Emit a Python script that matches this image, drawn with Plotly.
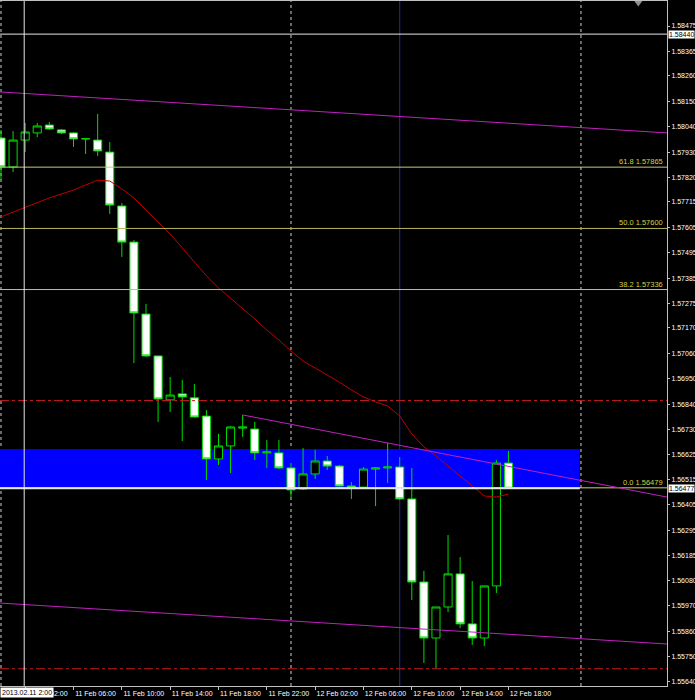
import plotly.graph_objects as go

# ---------------- data ----------------
bar_labels = [f"11 Feb {h:02d}:00" for h in range(24)] + [f"12 Feb {h:02d}:00" for h in range(19)]

open_ = [1.57991, 1.57866, 1.57982, 1.58013, 1.58047, 1.58026, 1.58013, 1.57987, 1.57982, 1.57930,
         1.57697, 1.57541, 1.57230, 1.57049, 1.56859, 1.56885, 1.56868, 1.56789, 1.56604, 1.56660,
         1.56737, 1.56733, 1.56630, 1.56630, 1.56565, 1.56474, 1.56539, 1.56595, 1.56573, 1.56487,
         1.56482, 1.56560, 1.56565, 1.56569, 1.56431, 1.56072, 1.55830, 1.55964, 1.56107, 1.55891,
         1.55830, 1.56055, 1.56586]
high = [1.58026, 1.58021, 1.58056, 1.58056, 1.58060, 1.58030, 1.58017, 1.57991, 1.58095, 1.57974,
        1.57710, 1.57550, 1.57274, 1.57050, 1.56958, 1.56945, 1.56928, 1.56815, 1.56712, 1.56745,
        1.56794, 1.56764, 1.56686, 1.56686, 1.56586, 1.56651, 1.56643, 1.56617, 1.56578, 1.56504,
        1.56569, 1.56569, 1.56673, 1.56612, 1.56565, 1.56120, 1.55964, 1.56275, 1.56180, 1.56076,
        1.56055, 1.56599, 1.56638]
low = [1.57809, 1.57844, 1.57930, 1.57995, 1.58026, 1.58008, 1.57952, 1.57922, 1.57913, 1.57663,
       1.57477, 1.57018, 1.57045, 1.56764, 1.56807, 1.56681, 1.56783, 1.56513, 1.56578, 1.56543,
       1.56699, 1.56599, 1.56565, 1.56560, 1.56439, 1.56470, 1.56517, 1.56556, 1.56485, 1.56431,
       1.56482, 1.56400, 1.56500, 1.56426, 1.55994, 1.55722, 1.55700, 1.55942, 1.55873, 1.55800,
       1.55795, 1.56024, 1.56477]
close = [1.57866, 1.57982, 1.58017, 1.58043, 1.58030, 1.58013, 1.57987, 1.57988, 1.57935, 1.57701,
         1.57541, 1.57235, 1.57049, 1.56863, 1.56880, 1.56872, 1.56785, 1.56604, 1.56660, 1.56742,
         1.56742, 1.56630, 1.56634, 1.56565, 1.56470, 1.56539, 1.56595, 1.56573, 1.56487, 1.56482,
         1.56560, 1.56565, 1.56569, 1.56431, 1.56072, 1.55830, 1.55964, 1.56107, 1.55891, 1.55830,
         1.56055, 1.56586, 1.56477]
ma = [1.57650, 1.57671, 1.57693, 1.57714, 1.57732, 1.57749, 1.57766, 1.57788, 1.57809, 1.57805,
      1.57771, 1.57732, 1.57680, 1.57632, 1.57576, 1.57516, 1.57455, 1.57395, 1.57343, 1.57299,
      1.57252, 1.57209, 1.57161, 1.57118, 1.57070, 1.57027, 1.56997, 1.56967, 1.56936, 1.56902,
      1.56872, 1.56850, 1.56833, 1.56789, 1.56712, 1.56656, 1.56617, 1.56573, 1.56530, 1.56483,
      1.56444, 1.56439, 1.56452]

x_tick_pos = [2, 6, 10, 14, 18, 22, 26, 30, 34, 38, 42]
x_tick_text = ["11 Feb 02:00", "11 Feb 06:00", "11 Feb 10:00", "11 Feb 14:00", "11 Feb 18:00",
               "11 Feb 22:00", "12 Feb 02:00", "12 Feb 06:00", "12 Feb 10:00", "12 Feb 14:00",
               "12 Feb 18:00"]
y_tick_text = ["1.58475", "1.58365", "1.58260", "1.58150", "1.58040", "1.57930", "1.57820",
               "1.57715", "1.57605", "1.57495", "1.57385", "1.57275", "1.57170", "1.57060",
               "1.56950", "1.56840", "1.56730", "1.56625", "1.56515", "1.56405", "1.56295",
               "1.56185", "1.56080", "1.55970", "1.55860", "1.55750", "1.55640"]

fib_levels = ["61.8", "50.0", "38.2", "0.0"]
fib_prices = [1.57865, 1.57600, 1.57336, 1.56479]
fib_colors = ["#C8C87A", "#B4B45A", "#C8BC8C", "#D2D264"]

red_levels = [1.56856, 1.55697]
zone_low, zone_high = 1.56479, 1.56647
zone_end = 47.9
day_separators = [0, 24, 48]
blue_vline = 33
cross_x, cross_price = 1.92, 1.58440
bid_price = 1.56477

# trendlines: (x0, y0, x1, y1)
trendlines = [(-0.083, 1.58190, 55.12, 1.58013),
              (-0.083, 1.55981, 55.12, 1.55804),
              (20, 1.56794, 55.12, 1.56439)]

x_range = [-0.083, 55.12]
y_range = [1.556225, 1.585831]

# ---------------- figure ----------------
idx = list(range(len(open_)))
fig = go.Figure()

fig.add_trace(go.Scatter(x=idx, y=ma, mode="lines",
                         line=dict(color="#C00000", width=1), hoverinfo="skip"))

fig.add_trace(go.Candlestick(
    x=idx, open=open_, high=high, low=low, close=close, text=bar_labels,
    increasing=dict(line=dict(color="#00DD00", width=1), fillcolor="#000000"),
    decreasing=dict(line=dict(color="#00DD00", width=1), fillcolor="#FFFFFF"),
    whiskerwidth=0))

shapes = []
shapes.append(dict(type="rect", xref="x", yref="y", x0=-1, x1=zone_end, y0=zone_low, y1=zone_high,
                   fillcolor="#0000FF", line=dict(width=0), layer="below"))
for d in day_separators:
    shapes.append(dict(type="line", xref="x", yref="paper", x0=d, x1=d, y0=0, y1=1,
                       line=dict(color="#D0D0D0", width=1, dash="dot"), layer="below"))
shapes.append(dict(type="line", xref="x", yref="paper", x0=blue_vline, x1=blue_vline, y0=0, y1=1,
                   line=dict(color="#2828B4", width=1), layer="below"))
for p in red_levels:
    shapes.append(dict(type="line", xref="paper", yref="y", x0=0, x1=1, y0=p, y1=p,
                       line=dict(color="#C81E1E", width=1, dash="dashdot")))
for p, c in zip(fib_prices, fib_colors):
    shapes.append(dict(type="line", xref="paper", yref="y", x0=0, x1=1, y0=p, y1=p,
                       line=dict(color=c, width=1)))
shapes.append(dict(type="line", xref="x", yref="y", x0=-1, x1=zone_end, y0=bid_price, y1=bid_price,
                   line=dict(color="#E6E6E6", width=2)))
for (x0, y0, x1, y1) in trendlines:
    shapes.append(dict(type="line", xref="x", yref="y", x0=x0, y0=y0, x1=x1, y1=y1,
                       line=dict(color="#C020C0", width=1)))
shapes.append(dict(type="line", xref="x", yref="paper", x0=cross_x, x1=cross_x, y0=0, y1=1,
                   line=dict(color="#E6E6E6", width=1)))
shapes.append(dict(type="line", xref="paper", yref="y", x0=0, x1=1, y0=cross_price, y1=cross_price,
                   line=dict(color="#E6E6E6", width=1)))
shapes.append(dict(type="path", xref="paper", yref="paper",
                   path="M 0.951,1 L 0.963,1 L 0.957,0.992 Z",
                   fillcolor="#909090", line=dict(width=0)))

annotations = []
for lvl, p in zip(fib_levels, fib_prices):
    annotations.append(dict(xref="paper", yref="y", x=1, y=p, text=f"{lvl} {p:.5f}",
                            xanchor="right", yanchor="bottom", showarrow=False, xshift=-2, yshift=-1,
                            font=dict(family="Liberation Sans", size=7.5, color="#D2D246")))
for p in [cross_price, bid_price]:
    annotations.append(dict(xref="paper", yref="y", x=1, y=p, text=f"{p:.5f}",
                            xanchor="left", yanchor="middle", showarrow=False, xshift=1,
                            bgcolor="#FFFFFF", borderpad=0,
                            font=dict(family="Liberation Sans", size=7, color="#000000")))
annotations.append(dict(xref="paper", yref="paper", x=0, y=0, text="2013.02.11 2:00",
                        xanchor="left", yanchor="top", showarrow=False, yshift=-1, xshift=0,
                        bgcolor="#FFFFFF", borderpad=1,
                        font=dict(family="Liberation Sans", size=7, color="#000000")))

fig.update_layout(
    width=695, height=700,
    margin=dict(l=0, r=28, t=1, b=14, autoexpand=False),
    paper_bgcolor="#000000", plot_bgcolor="#000000",
    showlegend=False, boxgap=0.33, boxgroupgap=0,
    shapes=shapes, annotations=annotations,
    font=dict(family="Liberation Sans", size=7, color="#FFFFFF"),
    xaxis=dict(range=x_range, showgrid=False, zeroline=False, rangeslider=dict(visible=False),
               tickvals=x_tick_pos, ticktext=x_tick_text, ticks="outside", ticklen=3,
               tickcolor="#C0C0C0", ticklabelshift=22, ticklabelstandoff=-2,
               showline=True, linecolor="#C0C0C0", linewidth=1, mirror=True,
               tickfont=dict(family="Liberation Sans", size=7, color="#FFFFFF")),
    yaxis=dict(range=y_range, side="right", showgrid=False, zeroline=False,
               tickvals=[float(t) for t in y_tick_text], ticktext=y_tick_text,
               ticks="outside", ticklen=2, tickcolor="#C0C0C0",
               showline=True, linecolor="#C0C0C0", linewidth=1,
               tickfont=dict(family="Liberation Sans", size=7, color="#FFFFFF")),
)

fig.write_html("out.html", config={"displayModeBar": False},
               post_script="document.body.style.margin='0';document.body.style.background='#000';")
